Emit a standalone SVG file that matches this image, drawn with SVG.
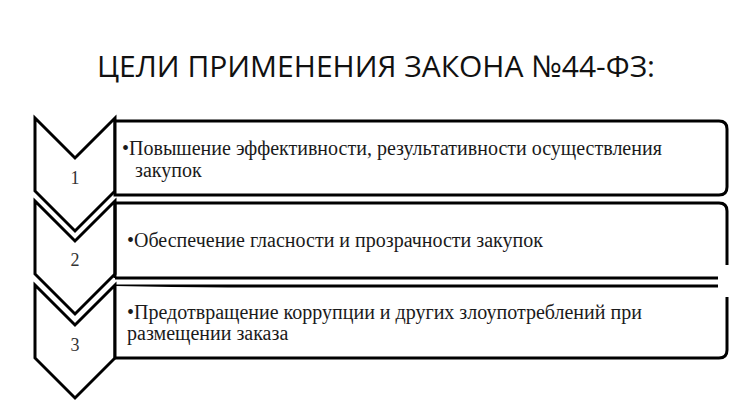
<svg xmlns="http://www.w3.org/2000/svg" width="750" height="420" viewBox="0 0 750 420">
<style>
.sh{fill:#fff;stroke:#000;stroke-width:3;stroke-linejoin:miter}
.ln{fill:none;stroke:#000;stroke-width:3}
.t{font-family:"Liberation Serif","Times New Roman",serif;font-size:20px;fill:#1a1a1a}
.n{font-family:"Liberation Serif","Times New Roman",serif;font-size:18px;fill:#333;text-anchor:middle}
.h{font-family:"Open Sans","Noto Sans",sans-serif;font-size:30px;fill:#111;text-anchor:middle}
</style>
<rect width="750" height="420" fill="#fff"/>
<text class="h" x="376" y="77">ЦЕЛИ ПРИМЕНЕНИЯ ЗАКОНА №44-ФЗ:</text>
<g id="chevron1">
<path class="sh" d="M35,118 L75,158 L115,118 L115,191 L75,231 L35,191 Z"/>
<text class="n" x="75" y="184">1</text>
</g>
<g id="chevron2">
<path class="sh" d="M35,201 L75,241 L115,201 L115,274 L75,314 L35,274 Z"/>
<text class="n" x="75" y="266">2</text>
</g>
<g id="chevron3">
<path class="sh" d="M35,285 L75,325 L115,285 L115,358 L75,398 L35,358 Z"/>
<text class="n" x="75" y="351">3</text>
</g>
<g id="box1">
<path class="sh" d="M115,121 L719,121 Q727,121 727,129 L727,187 Q727,195 719,195 L115,195 Z"/>
<text class="t" x="122" y="155">•Повышение эффективности, результативности осуществления</text>
<text class="t" x="135" y="177">закупок</text>
</g>
<g id="box2">
<path class="sh" d="M115,203 L719,203 Q727,203 727,211 L727,265" />
<path class="ln" d="M115,278 L718,278"/>
<path class="ln" d="M115,203 L115,278"/>
<text class="t" x="127" y="247">•Обеспечение гласности и прозрачности закупок</text>
</g>
<g id="box3">
<path class="ln" d="M115,286 L718,286"/>
<path class="sh" d="M727,297 L727,350 Q727,358 719,358 L115,358 L115,286" />
<text class="t" x="127" y="319">•Предотвращение коррупции и других злоупотреблений при</text>
<text class="t" x="127" y="340">размещении заказа</text>
</g>
</svg>
